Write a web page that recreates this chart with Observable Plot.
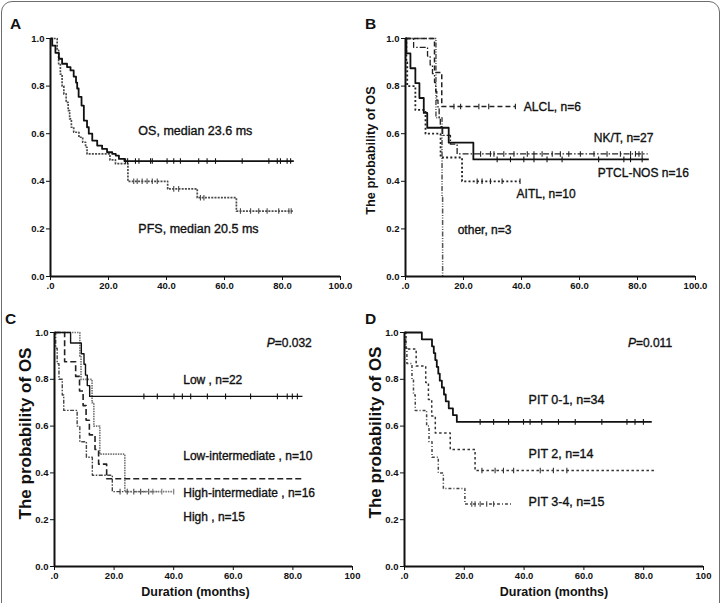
<!DOCTYPE html>
<html>
<head>
<meta charset="utf-8">
<script src="https://cdn.jsdelivr.net/npm/d3@7"></script>
<script src="https://cdn.jsdelivr.net/npm/@observablehq/plot@0.6"></script>
<style>
  html, body { margin: 0; padding: 0; background: #fff; }
  #fig { position: relative; width: 723px; height: 603px; overflow: hidden; background: #fff;
         font-family: "Liberation Sans", Arial, sans-serif; }
  #frame { position: absolute; left: 1px; top: 1px; width: 719px; height: 660px;
           border: 1.5px solid #6d6d6d; border-radius: 11px; box-sizing: border-box; }
  .panel { position: absolute; }
  .letter { position: absolute; font-weight: bold; font-size: 15.5px; line-height: 16px; color: #111; }
</style>
</head>
<body>
<div id="fig"><div id="frame"></div></div>
<script>
// ---- axis ticks ----
const xTicks = [0, 20, 40, 60, 80, 100];
const yTicks = [0, 0.2, 0.4, 0.6, 0.8, 1];
const xTickLabelsAB = [".0", "20.0", "40.0", "60.0", "80.0", "100.0"];
const xTickLabelsCD = [".0", "20.0", "40.0", "60.0", "80.0", "100"];
const yTickLabels = ["0.0", "0.2", "0.4", "0.6", "0.8", "1.0"];

// ---- panel A: OS and PFS, all patients (months, survival) ----
const osSteps = [[0,1],[0.6,0.97],[1.7,0.94],[2.9,0.915],[4.0,0.894],[5.7,0.88],[6.9,0.866],[8.0,0.84],[8.8,0.815],[9.2,0.79],[9.7,0.755],[10.7,0.718],[11.5,0.655],[12.6,0.627],[13.2,0.6],[14.4,0.571],[16.1,0.55],[17.8,0.536],[19.5,0.522],[21.3,0.515],[22.5,0.508],[23.6,0.494],[25.5,0.485],[83.9,0.485]];
const osCensored = [25.9, 26.6, 29.3, 30.5, 34.5, 35.1, 40.2, 42.5, 44.8, 51.1, 54.0, 56.9, 66.1, 75.3, 78.2, 79.3, 81.6, 82.8];
const pfsSteps = [[0,1],[2.3,0.95],[2.8,0.894],[3.4,0.85],[4.0,0.80],[4.6,0.767],[5.4,0.732],[6.1,0.697],[6.6,0.662],[7.2,0.627],[8.0,0.606],[9.8,0.585],[11.1,0.564],[12.1,0.543],[12.6,0.515],[20.5,0.49],[22.4,0.474],[26.7,0.40],[40.4,0.368],[50.6,0.331],[64.1,0.275],[83.7,0.275]];
const pfsCensored = [28.7, 29.9, 31.6, 33.3, 35.1, 36.8, 42.5, 44.2, 51.7, 52.9, 65.5, 69.0, 71.8, 74.7, 78.7, 82.2, 83.0];
const labelsA = ["OS, median 23.6 ms", "PFS, median 20.5 ms"];

// ---- panel B: OS by subtype ----
const ptclSteps = [[0,1],[0.3,0.9375],[1.7,0.875],[3.4,0.8125],[4.8,0.75],[6.3,0.6875],[7.5,0.625],[14.9,0.5625],[23.4,0.492],[83.9,0.492]];
const ptclCensored = [31.6, 36.2, 40.8, 44.3, 48.8, 54.0, 66.6, 75.3, 77.6, 81.6];
const nktSteps = [[0,1],[2.8,0.963],[7.6,0.926],[8.5,0.889],[9.3,0.852],[10.0,0.815],[10.4,0.778],[10.8,0.741],[11.2,0.704],[11.6,0.667],[12.0,0.63],[12.8,0.593],[15.5,0.556],[17.8,0.515],[83.5,0.515]];
const nktCensored = [25.9, 29.3, 30.5, 33.9, 37.4, 42.0, 44.3, 47.1, 50.6, 53.4, 56.3, 60.3, 65.0, 69.5, 74.1, 77.6, 79.3, 80.5, 81.6];
const alclSteps = [[0,1],[10.0,0.857],[12.5,0.714],[37.9,0.714]];
const alclCensored = [16.7, 19.0, 25.3, 28.7, 37.9];
const aitlSteps = [[0,1],[0.3,0.9],[0.6,0.8],[3.4,0.7],[6.9,0.6],[12.1,0.5],[19.5,0.4],[39.5,0.4]];
const aitlCensored = [24.7, 26.4, 29.3, 33.3, 39.5];
const otherSteps = [[0,1],[10.5,0.667],[12.6,0.333],[12.8,0]];
const labelsB = ["ALCL, n=6", "NK/T, n=27", "PTCL-NOS n=16", "AITL, n=10", "other, n=3"];

// ---- panel C: OS by IPI group ----
const lowSteps = [[0,1],[5.4,0.955],[9.0,0.909],[9.9,0.864],[10.4,0.818],[11.0,0.773],[11.8,0.727],[83.2,0.727]];
const lowCensored = [30.0, 34.5, 40.1, 42.9, 45.7, 51.3, 57.4, 65.8, 74.8, 78.1, 79.8, 81.5];
const lowIntSteps = [[0,1],[8.5,0.9],[8.9,0.8],[12.6,0.7],[13.2,0.6],[15.2,0.48],[23.6,0.32],[40.0,0.32]];
const lowIntCensored = [33.0, 36.0, 40.0];
const highIntSteps = [[0,1],[3.4,0.875],[7.1,0.8125],[8.4,0.75],[9.6,0.6875],[10.6,0.625],[11.7,0.5625],[13.6,0.5],[14.8,0.4375],[17.5,0.375],[83.8,0.375]];
const highSteps = [[0,1],[0.4,0.933],[0.9,0.867],[1.5,0.8],[2.6,0.733],[3.1,0.667],[7.6,0.6],[8.5,0.533],[10.7,0.467],[12.7,0.39],[19.4,0.32],[35.0,0.32]];
const highCensored = [22.0, 24.4, 26.6, 28.9, 31.6];
const labelsC = ["Low , n=22", "Low-intermediate , n=10", "High-intermediate , n=16", "High , n=15"];
const pValueC = "=0.032";

// ---- panel D: OS by PIT group ----
const pit01Steps = [[0,1],[5.8,0.971],[9.2,0.941],[9.8,0.912],[10.3,0.882],[10.8,0.853],[11.3,0.824],[11.8,0.794],[12.5,0.765],[13.2,0.735],[13.8,0.706],[14.8,0.676],[16.2,0.647],[17.5,0.618],[82.7,0.618]];
const pit01Censored = [25.3, 29.8, 34.8, 39.8, 42.0, 45.9, 51.5, 57.1, 66.0, 74.4, 77.1, 79.9];
const pit2Steps = [[0,1],[0.5,0.929],[3.9,0.857],[7.1,0.786],[8.0,0.714],[9.1,0.643],[10.3,0.571],[15.3,0.5],[23.6,0.41],[83.8,0.41]];
const pit2Censored = [25.9, 30.3, 33.1, 36.5, 45.4, 49.8, 54.3];
const pit34Steps = [[0,1],[0.4,0.933],[0.8,0.867],[2.5,0.8],[3.0,0.733],[3.6,0.667],[7.4,0.6],[8.2,0.533],[9.2,0.467],[11.3,0.4],[13.0,0.333],[20.2,0.267],[35.9,0.267]];
const pit34Censored = [22.5, 23.6, 25.3, 27.5, 29.8];
const labelsD = ["PIT 0-1, n=34", "PIT 2, n=14", "PIT 3-4, n=15"];
const pValueD = "=0.011";

const yTitle = "The probability of OS";
const xTitle = "Duration (months)";
const panelLetters = ["A", "B", "C", "D"];

// ---- helpers ----
const FONT = '"Liberation Sans", Arial, sans-serif';

function survivalAt(steps, t) {
  let s = steps[0][1];
  for (const [ti, si] of steps) if (ti <= t) s = si;
  return s;
}

// short vertical stroke used for censored observations
const censorTick = {
  draw(ctx, size) {
    const h = Math.sqrt(size / Math.PI);
    ctx.moveTo(0, -h);
    ctx.lineTo(0, h);
  }
};

function curve(steps, censored, style) {
  const marks = [
    Plot.line(steps, {
      x: d => d[0], y: d => d[1], curve: "step-after",
      stroke: style.stroke, strokeWidth: style.width,
      strokeDasharray: style.dash || null, strokeLinecap: "butt"
    })
  ];
  if (censored && censored.length) {
    marks.push(Plot.dot(censored.map(t => [t, survivalAt(steps, t)]), {
      x: d => d[0], y: d => d[1], symbol: censorTick, r: 2.8,
      stroke: style.stroke, strokeWidth: 1.1, fill: "none"
    }));
  }
  return marks;
}

// annotation text, slightly thickened with a same-colour stroke
function label(text, x, y, size, extra = {}) {
  return Plot.text([text], {
    x: () => x, y: () => y, text: d => d, textAnchor: "start",
    fontSize: size, fill: "#111", stroke: "#111", strokeWidth: 0.35, ...extra
  });
}

function frameAxes(xLabels) {
  return [
    Plot.axisY({ticks: yTicks, tickFormat: d => yTickLabels[yTicks.indexOf(d)],
      tickSize: 4, tickPadding: 2, fontSize: 9.5, fontWeight: "bold", label: null}),
    Plot.axisX({ticks: xTicks, tickFormat: d => xLabels[xTicks.indexOf(d)],
      tickSize: 4, tickPadding: 2, fontSize: 9.5, fontWeight: "bold", label: null}),
    Plot.ruleX([0], {y1: 0, y2: 1, stroke: "#111", strokeWidth: 2}),
    Plot.ruleY([0], {x1: 0, x2: 100, stroke: "#111", strokeWidth: 2})
  ];
}

function yAxisTitle(size, dx, dy) {
  return Plot.text([yTitle], {frameAnchor: "left", text: d => d, rotate: -90,
    fontSize: size, fontWeight: "bold", fill: "#111", dx, dy, textAnchor: "middle"});
}

function xAxisTitle(dx, dy) {
  return Plot.text([xTitle], {frameAnchor: "bottom", text: d => d,
    fontSize: 12.5, fontWeight: "bold", fill: "#111", dx, dy, textAnchor: "middle"});
}

function pValue(text, x, y) {
  return [
    Plot.text(["P"], {x: () => x, y: () => y, text: d => d, textAnchor: "end",
      fontStyle: "italic", fontSize: 12, fill: "#111", stroke: "#111", strokeWidth: 0.35}),
    Plot.text([text], {x: () => x, y: () => y, text: d => d, textAnchor: "start",
      fontSize: 12, fill: "#111", stroke: "#111", strokeWidth: 0.35})
  ];
}

function panel(left, top, width, height, margins, marks) {
  const svg = Plot.plot({
    width, height,
    marginLeft: margins[0], marginRight: margins[1], marginTop: margins[2], marginBottom: margins[3],
    x: {domain: [0, 100]},
    y: {domain: [0, 1]},
    style: {fontFamily: FONT, color: "#111", background: "transparent", overflow: "visible"},
    marks
  });
  svg.classList.add("panel");
  svg.style.left = left + "px";
  svg.style.top = top + "px";
  document.getElementById("fig").appendChild(svg);
}

// ---- panel A ----
panel(0, 0, 360, 300, [50, 20, 38, 24], [
  ...curve(pfsSteps, pfsCensored, {stroke: "#4a4a4a", width: 1.7, dash: "2,1.2"}),
  ...curve(osSteps, osCensored, {stroke: "#111", width: 1.8}),
  ...frameAxes(xTickLabelsAB),
  label(labelsA[0], 30.3, 0.613, 12.5),
  label(labelsA[1], 30.3, 0.20, 12.5)
]);

// ---- panel B ----
panel(360, 0, 363, 300, [45, 28, 38, 24], [
  ...curve(otherSteps, [], {stroke: "#555", width: 1.5, dash: "5,1.5,1,1.5,1,1.5"}),
  ...curve(aitlSteps, aitlCensored, {stroke: "#222", width: 1.8, dash: "2,2.2"}),
  ...curve(alclSteps, alclCensored, {stroke: "#222", width: 1.5, dash: "5,3"}),
  ...curve(nktSteps, nktCensored, {stroke: "#222", width: 1.3, dash: "6,2,1.5,2"}),
  ...curve(ptclSteps, ptclCensored, {stroke: "#111", width: 1.8}),
  ...frameAxes(xTickLabelsAB),
  yAxisTitle(12.7, -35, -7),
  label(labelsB[0], 40.8, 0.711, 12),
  label(labelsB[1], 64.9, 0.583, 12),
  label(labelsB[2], 66.3, 0.434, 12),
  label(labelsB[3], 38.3, 0.347, 12),
  label(labelsB[4], 18.0, 0.193, 12)
]);

// ---- panel C ----
panel(0, 300, 360, 303, [54, 8, 32, 37], [
  ...curve(highSteps, highCensored, {stroke: "#444", width: 1.4, dash: "4,1.5,1.5,1.5"}),
  ...curve(lowIntSteps, lowIntCensored, {stroke: "#777", width: 1.7, dash: "1.5,1"}),
  ...curve(highIntSteps, [], {stroke: "#222", width: 1.6, dash: "6,3"}),
  ...curve(lowSteps, lowCensored, {stroke: "#111", width: 1.4}),
  ...frameAxes(xTickLabelsCD),
  yAxisTitle(17, -29, -16),
  xAxisTitle(-8, 29),
  ...pValue(pValueC, 73.9, 0.953),
  label(labelsC[0], 43.2, 0.796, 12),
  label(labelsC[1], 43.2, 0.47, 12),
  label(labelsC[2], 43.2, 0.312, 12),
  label(labelsC[3], 43.2, 0.213, 12)
]);

// ---- panel D ----
panel(360, 300, 363, 303, [44, 20, 32, 37], [
  ...curve(pit34Steps, pit34Censored, {stroke: "#444", width: 1.5, dash: "3,2,1,2"}),
  ...curve(pit2Steps, pit2Censored, {stroke: "#333", width: 1.5, dash: "2.5,2.5"}),
  ...curve(pit01Steps, pit01Censored, {stroke: "#111", width: 1.8}),
  ...frameAxes(xTickLabelsCD),
  yAxisTitle(17, -28.5, -17),
  xAxisTitle(0, 29),
  ...pValue(pValueD, 77.4, 0.953),
  label(labelsD[0], 41.5, 0.71, 12.5),
  label(labelsD[1], 41.5, 0.479, 12.5),
  label(labelsD[2], 41.5, 0.274, 12.5)
]);

// ---- panel letters ----
[[10, 16], [365, 16], [5, 311], [365, 311]].forEach(([x, y], i) => {
  const el = document.createElement("div");
  el.className = "letter";
  el.style.left = x + "px";
  el.style.top = y + "px";
  el.textContent = panelLetters[i];
  document.getElementById("fig").appendChild(el);
});
</script>
</body>
</html>
